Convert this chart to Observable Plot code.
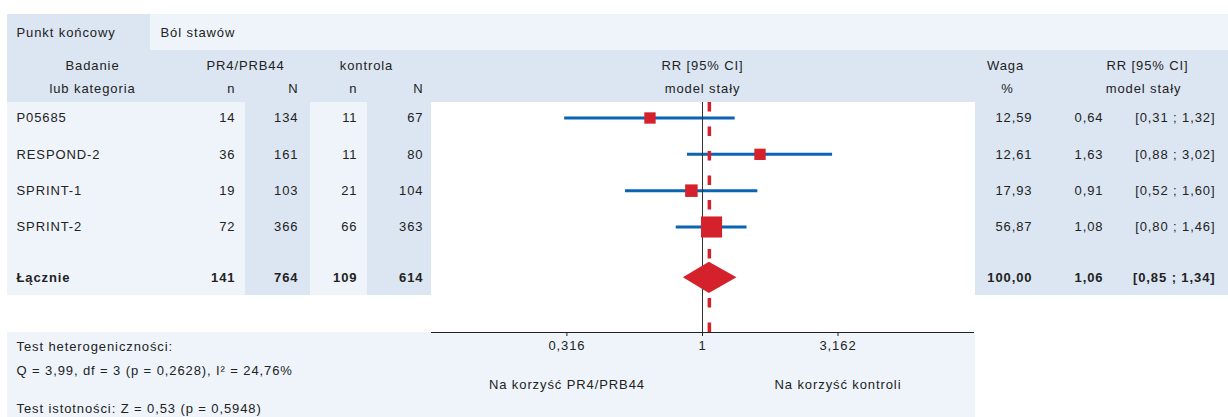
<!DOCTYPE html>
<html lang="pl">
<head>
<meta charset="utf-8">
<script src="https://cdn.jsdelivr.net/npm/d3@7"></script>
<script src="https://cdn.jsdelivr.net/npm/@observablehq/plot@0.6"></script>
<style>
  html, body { margin: 0; padding: 0; background: #ffffff; }
  #chart { position: relative; width: 1228px; height: 417px; overflow: hidden; }
  #chart .panel { position: absolute; }
  #chart svg { position: absolute; left: 0; top: 0; }
</style>
</head>
<body>
<div id="chart"></div>
<script>
// ---- Study data (risk ratio, fixed-effect model) ----
const studies      = ["P05685", "RESPOND-2", "SPRINT-1", "SPRINT-2"];
const treatEvents  = [14, 36, 19, 72];
const treatTotals  = [134, 161, 103, 366];
const ctrlEvents   = [11, 11, 21, 66];
const ctrlTotals   = [67, 80, 104, 363];
const weights      = [12.59, 12.61, 17.93, 56.87];
const riskRatios   = [0.64, 1.63, 0.91, 1.08];
const ciLower      = [0.31, 0.88, 0.52, 0.80];
const ciUpper      = [1.32, 3.02, 1.60, 1.46];

// ---- Pooled result ----
const pooledLabel  = "Łącznie";
const pooledCounts = [141, 764, 109, 614];
const pooledWeight = 100.00;
const pooledRR     = 1.06;
const pooledCI     = [0.85, 1.34];

// ---- Labels ----
const axisTicks     = [0.316, 1, 3.162];
const favourLabels  = ["Na korzyść PR4/PRB44", "Na korzyść kontroli"];
const endpointLabel = ["Punkt końcowy", "Ból stawów"];
const statsLines    = [
  "Test heterogeniczności:",
  "Q = 3,99, df = 3 (p = 0,2628), I² = 24,76%",
  "Test istotności: Z = 0,53 (p = 0,5948)"
];

// ---- Styling / layout ----
const FONT = "'Liberation Sans', Arial, sans-serif";
const TEXT = "#222222";
const BLUE = "#0b63b3";
const RED = "#d4212b";
const DARK_BG = "#dbe6f2";
const LIGHT_BG = "#eef4fa";
const pooledGap = 1.4;          // extra spacing before the pooled row (in rows)
const diamondHalf = 0.43;       // half height of the pooled diamond (in rows)

const dec = (v, k) => v.toFixed(k).replace(".", ",");
const fmtTick = v => String(v).replace(".", ",");

const chart = document.getElementById("chart");

// background panels of the table
const panels = [
  {l: 7,   t: 14,  w: 143,  h: 36,  c: DARK_BG},
  {l: 150, t: 14,  w: 1078, h: 36,  c: LIGHT_BG},
  {l: 7,   t: 50,  w: 1221, h: 52,  c: DARK_BG},
  {l: 7,   t: 102, w: 424,  h: 193, c: LIGHT_BG},
  {l: 245, t: 102, w: 65,   h: 193, c: DARK_BG},
  {l: 367, t: 102, w: 64,   h: 193, c: DARK_BG},
  {l: 975, t: 102, w: 253,  h: 193, c: DARK_BG},
  {l: 7,   t: 332, w: 968,  h: 85,  c: LIGHT_BG}
];
for (const p of panels) {
  const d = document.createElement("div");
  d.className = "panel";
  Object.assign(d.style, {left: p.l + "px", top: p.t + "px", width: p.w + "px", height: p.h + "px", background: p.c});
  chart.appendChild(d);
}

const baseStyle = {background: "transparent", fontFamily: FONT, fontSize: "13px", color: TEXT, letterSpacing: "0.9px"};

// ---- Forest plot ----
const rows = studies.map((s, i) => ({
  study: s, i, w: weights[i], rr: riskRatios[i], lo: ciLower[i], hi: ciUpper[i]
}));
const pooledRow = studies.length - 1 + pooledGap;
const diamond = [
  {y: pooledRow - diamondHalf, x1: pooledRR, x2: pooledRR},
  {y: pooledRow,               x1: pooledCI[0], x2: pooledCI[1]},
  {y: pooledRow + diamondHalf, x1: pooledRR, x2: pooledRR}
];

const forest = Plot.plot({
  width: 1228,
  height: 417,
  marginTop: 102,
  marginBottom: 85,
  marginLeft: 431,
  marginRight: 255,
  style: baseStyle,
  x: {type: "log", domain: [0.1, 10], ticks: axisTicks, tickFormat: fmtTick, tickSize: 4, tickPadding: 4, line: true, label: null},
  y: {type: "linear", domain: [0, 3], range: [117.5, 226.5], axis: null},
  r: {type: "linear", domain: d3.extent(weights), range: [6.4, 11.9]},
  marks: [
    Plot.ruleY(rows, {y: "i", x1: "lo", x2: "hi", stroke: BLUE, strokeWidth: 3}),
    Plot.ruleX([1], {stroke: "#333333", strokeWidth: 1}),
    Plot.ruleX([pooledRR], {stroke: RED, strokeWidth: 3.5, strokeDasharray: "9.5,15"}),
    Plot.dot(rows, {x: "rr", y: "i", r: "w", symbol: "square", fill: RED, stroke: null}),
    Plot.areaX(diamond, {y: "y", x1: "x1", x2: "x2", fill: RED})
  ]
});

const xs = forest.scale("x");
const ys = forest.scale("y");

// ---- Table and annotation text ----
const items = [];
const add = (x, y, text, anchor = "start", bold = false) => items.push({x, y, text, anchor, bold});

// endpoint row
add(16, 32, endpointLabel[0]);
add(160, 32, endpointLabel[1]);

// header rows
const H1 = 65, H2 = 88;
add(92, H1, "Badanie", "middle");
add(92, H2, "lub kategoria", "middle");
add(245, H1, "PR4/PRB44", "middle");
add(366, H1, "kontrola", "middle");
const leftCols = [235, 298, 357, 423];
["n", "N", "n", "N"].forEach((t, k) => add(leftCols[k], H2, t, "end"));
add(xs.apply(1), H1, "RR [95% CI]", "middle");
add(xs.apply(1), H2, "model stały", "middle");
add(1005, H1, "Waga", "middle");
add(1007, H2, "%", "middle");
add(1147, H1, "RR [95% CI]", "middle");
add(1143, H2, "model stały", "middle");

// study rows
const rightCols = [1032, 1103, 1215];
rows.forEach(r => {
  const y = ys.apply(r.i);
  add(16, y, r.study);
  [treatEvents[r.i], treatTotals[r.i], ctrlEvents[r.i], ctrlTotals[r.i]]
    .forEach((v, k) => add(leftCols[k], y, String(v), "end"));
  add(rightCols[0], y, dec(r.w, 2), "end");
  add(rightCols[1], y, dec(r.rr, 2), "end");
  add(rightCols[2], y, `[${dec(r.lo, 2)} ; ${dec(r.hi, 2)}]`, "end");
});

// pooled row
{
  const y = ys.apply(pooledRow);
  add(16, y, pooledLabel, "start", true);
  pooledCounts.forEach((v, k) => add(leftCols[k], y, String(v), "end", true));
  add(rightCols[0], y, dec(pooledWeight, 2), "end", true);
  add(rightCols[1], y, dec(pooledRR, 2), "end", true);
  add(rightCols[2], y, `[${dec(pooledCI[0], 2)} ; ${dec(pooledCI[1], 2)}]`, "end", true);
}

// favour labels under the axis
add(xs.apply(axisTicks[0]), 384, favourLabels[0], "middle");
add(xs.apply(axisTicks[2]), 384, favourLabels[1], "middle");

// heterogeneity / significance tests
[346, 370, 408].forEach((y, k) => add(16, y, statsLines[k]));

const textMark = (anchor, bold) => Plot.text(items.filter(d => d.anchor === anchor && d.bold === bold), {
  x: "x", y: "y", text: "text", textAnchor: anchor, fill: TEXT, fontWeight: bold ? "bold" : "normal"
});

const table = Plot.plot({
  width: 1228,
  height: 417,
  margin: 0,
  style: baseStyle,
  x: {type: "identity", axis: null},
  y: {type: "identity", axis: null},
  marks: [
    textMark("start", false), textMark("middle", false), textMark("end", false),
    textMark("start", true), textMark("end", true)
  ]
});

chart.appendChild(table);
chart.appendChild(forest);
</script>
</body>
</html>
